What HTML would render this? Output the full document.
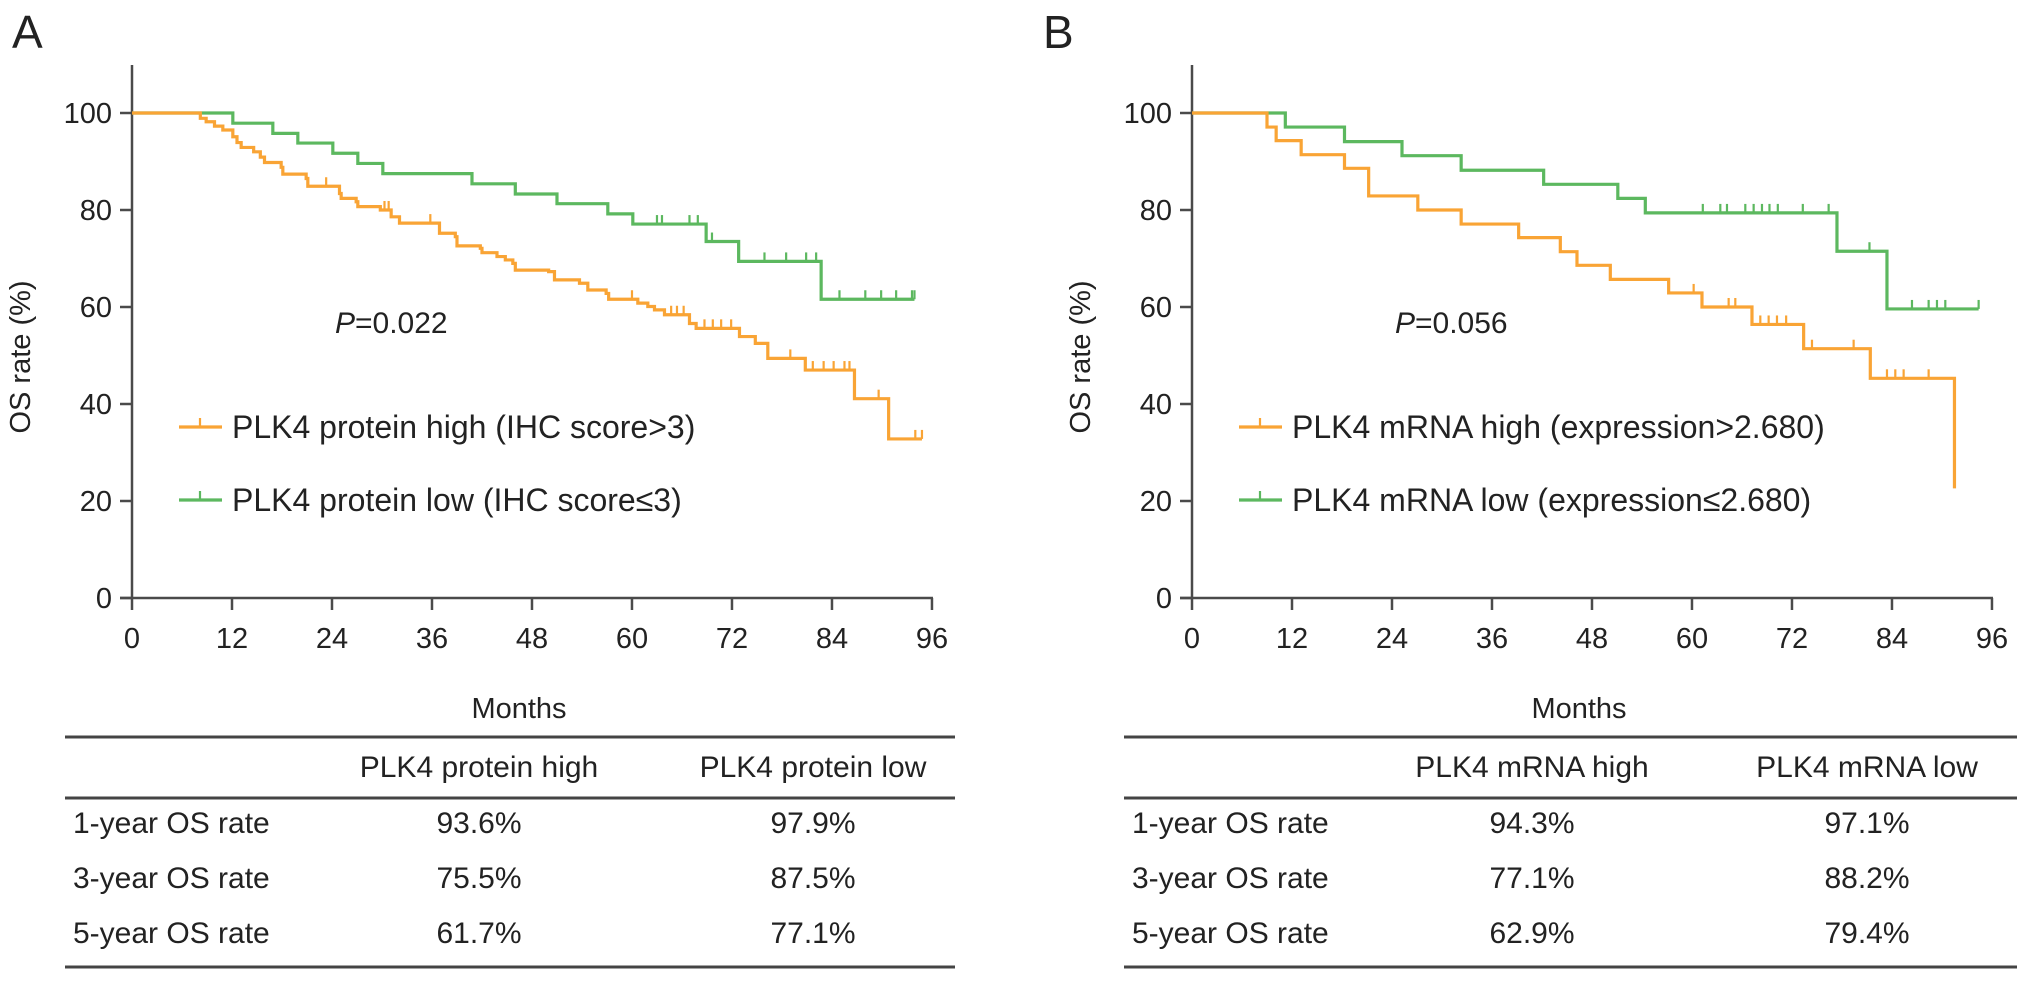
<!DOCTYPE html>
<html><head><meta charset="utf-8"><style>
html,body{margin:0;padding:0;background:#fff;}
svg{display:block;font-family:"Liberation Sans",Arial,sans-serif;}
</style></head><body>
<svg id="fig" width="2032" height="983" viewBox="0 0 2032 983">
<text x="12" y="48" font-size="46" fill="#222">A</text>
<text x="1043" y="48" font-size="46" fill="#222">B</text>
<g id="panelA"></g>
<g id="panelB"></g>
<g id="tables"></g>
</svg>
<script>
// ---- Panel A data ----
const aHighTimes = [8.2,8.9,9.9,10.9,12.1,12.6,13.1,14.6,15.4,15.9,17.9,18.1,20.9,21.1,24.9,25.1,26.9,27.1,29.8,31.1,32.1,36.9,38.8,39.0,41.8,42,43.8,44.8,45.7,46,50,50.7,53.7,54.7,56.9,57.2,60.7,61.9,62.7,63.9,66.9,67.7,72.9,74.8,76.3,80.8,86.7,90.8];
const aHighVals  = [98.9,98.2,97.3,96.5,95.1,93.9,92.9,92,90.9,89.8,88.8,87.4,86.5,84.9,83.4,82.4,81.7,80.7,80,78.6,77.3,75.2,74.5,72.6,72.1,71.2,70.4,69.7,69,67.6,67.3,65.6,64.9,63.5,62.8,61.6,60.8,60.1,59.4,58.4,56.6,55.6,53.9,52.5,49.4,47,41.1,32.8];
const aHighCensor = [23.3,30.3,30.8,35.8,60,64.7,65.4,66.2,68.7,69.7,70.7,71.9,79,81.7,83,84.2,85.5,86.1,89.6,94,94.8];
const aHighEnd = 94.8;
const aLowTimes = [12.1,16.9,19.9,24.1,27.1,30.1,40.8,46,51,57.1,60.1,68.9,72.8,82.7];
const aLowVals  = [97.9,95.8,93.8,91.7,89.6,87.5,85.4,83.3,81.3,79.2,77.1,73.5,69.4,61.6];
const aLowCensor = [63,63.6,66.9,67.9,69.6,75.9,78.5,80.9,82.1,84.9,88,89.9,91.7,93.6,93.9];
const aLowEnd = 93.9;
// ---- Panel B data ----
const bHighTimes = [9.0,10.1,13.1,18.3,21.2,27.1,32.3,39.2,44.2,46.2,50.2,57.2,61.2,67.2,73.4,81.4,91.5];
const bHighVals  = [97.1,94.3,91.4,88.6,82.9,80,77.1,74.3,71.4,68.6,65.7,62.9,60,56.4,51.4,45.3,22.6];
const bHighCensor = [60.2,64.4,65.2,68.2,69.2,70.2,71.3,74.4,79.4,83.4,84.4,85.4,88.4];
const bHighEnd = 91.5;
const bLowTimes = [11.2,18.3,25.2,32.3,42.2,51.1,54.4,77.4,83.4];
const bLowVals  = [97.1,94.1,91.2,88.2,85.3,82.4,79.4,71.5,59.6];
const bLowCensor = [61.3,63.4,64.2,66.4,67.4,68.4,69.3,70.3,73.3,76.4,81.3,86.4,88.4,89.4,90.4,94.4];
const bLowEnd = 94.4;
// ---- axis ticks ----
const xTicks = [0,12,24,36,48,60,72,84,96];
const yTicks = [0,20,40,60,80,100];
// ---- tables ----
const rowLabels = ["1-year OS rate","3-year OS rate","5-year OS rate"];
const aColHeads = ["PLK4 protein high","PLK4 protein low"];
const aHighRates = ["93.6%","75.5%","61.7%"];
const aLowRates  = ["97.9%","87.5%","77.1%"];
const bColHeads = ["PLK4 mRNA high","PLK4 mRNA low"];
const bHighRates = ["94.3%","77.1%","62.9%"];
const bLowRates  = ["97.1%","88.2%","79.4%"];

const NS="http://www.w3.org/2000/svg";
const ORANGE="#f9a435", GREEN="#5cb85f", AX="#4a4a4a";
function mk(tag,attrs,parent){const e=document.createElementNS(NS,tag);for(const k in attrs)e.setAttribute(k,attrs[k]);parent.appendChild(e);return e;}

function drawPanel(g,x0,key,hT,hV,hC,hE,lT,lV,lC,lE,pText,legHigh,legLow){
  const X=m=>x0+m*8.333, Y=v=>598-v*4.85;
  const ya=mk('line',{x1:X(0),y1:65,x2:X(0),y2:Y(0),stroke:AX,'stroke-width':2.5},g);
  
  
  const xa=mk('line',{x1:X(0)-12,y1:Y(0),x2:X(96)+1,y2:Y(0),stroke:AX,'stroke-width':2.5},g);
  
  
  yTicks.forEach(v=>{
    const t=mk('line',{x1:X(0)-12,y1:Y(v),x2:X(0),y2:Y(v),stroke:AX,'stroke-width':2.5},g);
    
    
    const l=mk('text',{x:X(0)-20,y:Y(v)+10,'font-size':29,'text-anchor':'end',fill:'#222'},g);
    l.textContent=v;
    
    
  });
  xTicks.forEach(m=>{
    const t=mk('line',{x1:X(m),y1:Y(0),x2:X(m),y2:Y(0)+12,stroke:AX,'stroke-width':2.5},g);
    
    
    const l=mk('text',{x:X(m),y:648,'font-size':29,'text-anchor':'middle',fill:'#222'},g);
    l.textContent=m;
    
    
  });
  const yt=mk('text',{x:0,y:0,'font-size':29,'text-anchor':'middle',fill:'#222',transform:`translate(${x0-102},357) rotate(-90)`},g);
  yt.textContent='OS rate (%)';
  
  
  const xt=mk('text',{x:X(0)+387,y:718,'font-size':29,'text-anchor':'middle',fill:'#222'},g);
  xt.textContent='Months';
  
  
  function curve(T,V,C,E,color,name){
    let d=`M${X(0)},${Y(100)}`;
    T.forEach((t,i)=>{d+=` H${X(t)} V${Y(V[i])}`;});
    d+=` H${X(E)}`;
    const p=mk('path',{d:d,fill:'none',stroke:color,'stroke-width':3.2,'stroke-linejoin':'miter'},g);
    
    
    C.forEach(c=>{
      let v=100;T.forEach((t,i)=>{if(t<=c)v=V[i];});
      const m=mk('line',{x1:X(c),y1:Y(v),x2:X(c),y2:Y(v)-9,stroke:color,'stroke-width':2.2},g);
      
      
    });
  }
  curve(lT,lV,lC,lE,GREEN,key+'-low');
  curve(hT,hV,hC,hE,ORANGE,key+'-high');
  const pt=mk('text',{x:X(0)+203,y:333,'font-size':30,fill:'#222'},g);
  pt.innerHTML='<tspan font-style="italic">P</tspan>='+pText;
  
  
  [[legHigh,ORANGE,427,'legend-entry-high'],[legLow,GREEN,500,'legend-entry-low']].forEach(([txt,col,y,nm])=>{
    const lg=mk('g',{},g);
    
    
    mk('line',{x1:X(0)+47,y1:y,x2:X(0)+90,y2:y,stroke:col,'stroke-width':3.2},lg);
    mk('line',{x1:X(0)+68,y1:y,x2:X(0)+68,y2:y-9,stroke:col,'stroke-width':2.2},lg);
    const t=mk('text',{x:X(0)+100,y:y+11,'font-size':32,fill:'#222'},lg);
    t.textContent=txt;
  });
}
drawPanel(document.getElementById('panelA'),132,'a',aHighTimes,aHighVals,aHighCensor,aHighEnd,aLowTimes,aLowVals,aLowCensor,aLowEnd,'0.022','PLK4 protein high (IHC score>3)','PLK4 protein low (IHC score\u22643)');
drawPanel(document.getElementById('panelB'),1192,'b',bHighTimes,bHighVals,bHighCensor,bHighEnd,bLowTimes,bLowVals,bLowCensor,bLowEnd,'0.056','PLK4 mRNA high (expression>2.680)','PLK4 mRNA low (expression\u22642.680)');

function drawTable(g,x1,x2,c1,c2,heads,r1,r2,key){
  const tg=mk('g',{},g);
  
  
  [737,798,967].forEach(y=>mk('line',{x1:x1,y1:y,x2:x2,y2:y,stroke:'#444','stroke-width':3},tg));
  [[c1,heads[0]],[c2,heads[1]]].forEach(([cx,h])=>{
    const t=mk('text',{x:cx,y:777,'font-size':30,'text-anchor':'middle',fill:'#222'},tg);
    t.textContent=h;
    
    
  });
  rowLabels.forEach((lab,i)=>{
    const y=833+i*55;
    const t=mk('text',{x:x1+8,y:y,'font-size':30,fill:'#222'},tg);
    t.textContent=lab;
    
    
    const a=mk('text',{x:c1,y:y,'font-size':30,'text-anchor':'middle',fill:'#222'},tg);
    a.textContent=r1[i];
    
    
    const b=mk('text',{x:c2,y:y,'font-size':30,'text-anchor':'middle',fill:'#222'},tg);
    b.textContent=r2[i];
    
    
  });
}
const tg=document.getElementById('tables');
drawTable(tg,65,955,479,813,aColHeads,aHighRates,aLowRates,'a');
drawTable(tg,1124,2017,1532,1867,bColHeads,bHighRates,bLowRates,'b');
</script>
</body></html>
